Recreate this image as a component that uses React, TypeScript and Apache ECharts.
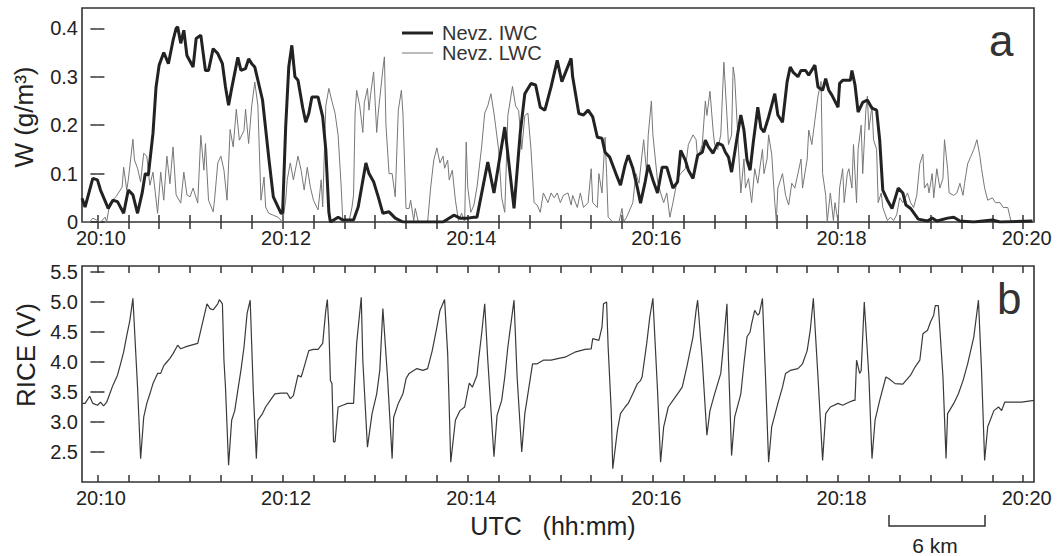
import React, { useEffect, useRef } from "react";
import * as echarts from "echarts";

// time axis: seconds after 20:10:00 UTC
const xTickValues = [0, 20, 40, 60, 80, 100, 120, 140, 160, 180, 200, 220, 240, 260, 280, 300, 320, 340, 360, 380, 400, 420, 440, 460, 480, 500, 520, 540, 560, 580, 600];
const xLabelValues = [0, 120, 240, 360, 480, 600];
const wTickValues = [0, 0.1, 0.2, 0.3, 0.4];
const riceTickValues = [2.5, 3.0, 3.5, 4.0, 4.5, 5.0, 5.5];
const legendNames = ["Nevz. IWC", "Nevz. LWC"];

const iwcT = [-10, -8, -3, 0, 2, 7, 10, 13, 17, 20, 23, 26, 29, 31, 33, 36, 38, 40, 43, 46, 49, 51, 52, 54, 56, 58, 62, 64, 67, 70, 72, 75, 78, 81, 83, 85, 87, 91, 93, 96, 98, 100, 102, 107, 111, 114, 119, 120, 122, 124, 126, 128, 130, 133, 135, 137, 139, 143, 146, 148, 150, 151, 156, 159, 166, 169, 174, 176, 179, 182, 185, 189, 193, 198, 224, 231, 235, 240, 244, 246, 253, 257, 264, 270, 274, 277, 281, 284, 287, 290, 294, 298, 301, 307, 308, 312, 315, 318, 321, 324, 327, 329, 332, 336, 339, 342, 344, 347, 350, 352, 355, 357, 360, 363, 366, 369, 373, 376, 378, 381, 383, 386, 389, 392, 394, 396, 399, 402, 405, 407, 409, 411, 415, 417, 419, 421, 423, 425, 428, 430, 432, 435, 437, 439, 441, 444, 447, 449, 451, 454, 456, 459, 461, 465, 467, 470, 472, 474, 476, 480, 481, 483, 488, 489, 491, 493, 496, 499, 502, 505, 507, 509, 512, 515, 519, 522, 524, 527, 532, 538, 541, 544, 551, 555, 559, 568, 580, 585, 606];
const iwcW = [0.049, 0.031, 0.09, 0.087, 0.066, 0.028, 0.045, 0.042, 0.018, 0.066, 0.056, 0.018, 0.06, 0.1, 0.097, 0.183, 0.279, 0.324, 0.35, 0.327, 0.375, 0.4, 0.403, 0.369, 0.396, 0.344, 0.32, 0.379, 0.386, 0.313, 0.313, 0.358, 0.348, 0.327, 0.279, 0.241, 0.276, 0.34, 0.313, 0.317, 0.337, 0.327, 0.32, 0.252, 0.134, 0.052, 0.018, 0.018, 0.196, 0.32, 0.365, 0.3, 0.293, 0.237, 0.206, 0.224, 0.258, 0.258, 0.217, 0.15, 0.02, 0, 0.01, 0.004, 0.004, 0.031, 0.122, 0.1, 0.083, 0.052, 0.018, 0.021, 0.008, 0, 0, 0.014, 0.008, 0.008, 0.01, 0.01, 0.124, 0.06, 0.196, 0.028, 0.183, 0.265, 0.286, 0.283, 0.237, 0.231, 0.279, 0.334, 0.29, 0.338, 0.3, 0.224, 0.221, 0.231, 0.217, 0.175, 0.173, 0.144, 0.134, 0.1, 0.076, 0.118, 0.138, 0.111, 0.07, 0.039, 0.083, 0.118, 0.087, 0.06, 0.113, 0.113, 0.07, 0.083, 0.148, 0.128, 0.107, 0.09, 0.138, 0.144, 0.169, 0.155, 0.142, 0.163, 0.159, 0.144, 0.134, 0.103, 0.183, 0.221, 0.19, 0.128, 0.107, 0.163, 0.237, 0.194, 0.186, 0.217, 0.241, 0.265, 0.221, 0.206, 0.29, 0.32, 0.309, 0.3, 0.313, 0.313, 0.303, 0.324, 0.279, 0.272, 0.296, 0.272, 0.262, 0.237, 0.286, 0.293, 0.293, 0.313, 0.283, 0.227, 0.247, 0.252, 0.235, 0.231, 0.169, 0.066, 0.045, 0.028, 0.07, 0.06, 0.035, 0.028, 0.006, 0.002, 0.008, 0.002, 0.008, 0.01, 0.002, 0, 0.004, 0, 0.002];

const lwcT = [-10, -5, -3, 2, 5, 6, 8, 12, 14, 16, 17, 19, 20, 23, 24, 26, 28, 30, 32, 34, 36, 39, 41, 43, 45, 47, 49, 51, 54, 56, 58, 60, 62, 65, 67, 69, 70, 72, 75, 76, 78, 80, 82, 84, 86, 88, 90, 92, 95, 96, 98, 100, 102, 104, 106, 108, 109, 111, 114, 117, 120, 122, 123, 125, 127, 130, 132, 134, 136, 138, 140, 143, 145, 146, 148, 150, 152, 154, 156, 158, 159, 163, 165, 166, 167, 168, 170, 172, 173, 175, 176, 177, 179, 181, 182, 185, 186, 187, 189, 191, 193, 195, 197, 198, 200, 202, 203, 205, 206, 208, 214, 216, 218, 220, 222, 224, 225, 227, 228, 230, 232, 234, 236, 238, 239, 240, 242, 244, 246, 249, 251, 253, 255, 257, 258, 260, 262, 264, 266, 269, 271, 273, 275, 277, 279, 281, 283, 285, 287, 289, 292, 294, 296, 298, 300, 302, 305, 307, 308, 311, 313, 315, 318, 320, 321, 324, 325, 327, 329, 330, 331, 334, 338, 340, 341, 343, 347, 349, 351, 354, 356, 357, 359, 360, 363, 365, 367, 369, 371, 373, 376, 378, 381, 383, 386, 388, 389, 392, 394, 395, 397, 399, 400, 402, 404, 406, 408, 409, 411, 412, 413, 415, 417, 419, 420, 422, 424, 426, 428, 431, 432, 434, 435, 437, 439, 440, 441, 444, 446, 448, 450, 452, 454, 456, 457, 460, 461, 463, 465, 467, 469, 470, 472, 473, 475, 477, 478, 480, 481, 483, 484, 486, 487, 489, 490, 492, 493, 495, 496, 498, 499, 500, 502, 503, 505, 506, 508, 509, 512, 514, 516, 518, 520, 522, 525, 527, 529, 531, 533, 535, 536, 538, 539, 541, 542, 544, 546, 548, 549, 551, 552, 555, 557, 559, 561, 562, 564, 566, 568, 570, 572, 573, 575, 577, 580, 582, 585, 587, 590, 592, 594, 607];
const lwcW = [0, 0, 0.008, 0, 0.01, 0, 0.039, 0.052, 0.062, 0.072, 0.113, 0.066, 0.087, 0.171, 0.128, 0.111, 0.083, 0.142, 0.136, 0.076, 0.103, 0.018, 0.103, 0.045, 0.136, 0.079, 0.155, 0.056, 0.039, 0.103, 0.056, 0.052, 0.07, 0.039, 0.179, 0.107, 0.162, 0.045, 0.021, 0.049, 0.122, 0.136, 0.107, 0.045, 0.191, 0.155, 0.233, 0.169, 0.189, 0.233, 0.162, 0.24, 0.289, 0.24, 0.045, 0.093, 0.031, 0.018, 0.014, 0.01, 0, 0.045, 0.087, 0.122, 0.087, 0.136, 0.107, 0.066, 0.113, 0.072, 0.045, 0.025, 0.087, 0.031, 0.24, 0.276, 0.249, 0.225, 0.179, 0.072, 0.003, 0, 0.031, 0.056, 0.225, 0.272, 0.24, 0.185, 0.247, 0.276, 0.231, 0.262, 0.31, 0.185, 0.225, 0.316, 0.341, 0.2, 0.1, 0.1, 0.052, 0.231, 0.272, 0.225, 0.028, 0.028, 0.045, 0.003, 0.028, 0, 0, 0.072, 0.128, 0.153, 0.122, 0.136, 0.111, 0.128, 0.087, 0.107, 0.045, 0.003, 0.018, 0, 0.165, 0.072, 0.02, 0.035, 0.072, 0.155, 0.225, 0.24, 0.265, 0.225, 0.2, 0.15, 0.05, 0.02, 0.22, 0.28, 0.24, 0.23, 0.15, 0.22, 0.225, 0.15, 0.04, 0.035, 0.02, 0.06, 0.04, 0.06, 0.05, 0.06, 0.04, 0.055, 0.06, 0.035, 0.055, 0.03, 0.06, 0.03, 0.04, 0.11, 0.04, 0.03, 0.1, 0.06, 0.175, 0.1, 0.01, 0, 0, 0.028, 0, 0.01, 0.04, 0.1, 0.08, 0.17, 0.1, 0.18, 0.25, 0.18, 0.085, 0.06, 0.04, 0.06, 0.01, 0.04, 0.09, 0.1, 0.11, 0.16, 0.18, 0.17, 0.13, 0.16, 0.25, 0.22, 0.27, 0.19, 0.16, 0.15, 0.18, 0.33, 0.22, 0.16, 0.18, 0.32, 0.3, 0.18, 0.06, 0.13, 0.07, 0.09, 0.04, 0.11, 0.08, 0.15, 0.1, 0.13, 0.18, 0.14, 0.04, 0.003, 0.07, 0.1, 0.055, 0.035, 0.08, 0.07, 0.1, 0.13, 0.07, 0.13, 0.19, 0.16, 0.21, 0.26, 0.29, 0.1, 0.055, 0, 0.06, 0.003, 0.04, 0, 0.07, 0.11, 0.04, 0.1, 0.11, 0.07, 0.16, 0.04, 0.15, 0.2, 0.1, 0.23, 0.26, 0.19, 0.24, 0.17, 0.15, 0.04, 0.06, 0.03, 0.003, 0.01, 0.003, 0.015, 0.05, 0.04, 0.06, 0.04, 0.03, 0.055, 0.12, 0.14, 0.07, 0.08, 0.06, 0.1, 0.05, 0.11, 0.07, 0.09, 0.17, 0.11, 0.06, 0.055, 0.06, 0.08, 0.055, 0.08, 0.12, 0.135, 0.15, 0.17, 0.135, 0.11, 0.07, 0.045, 0.05, 0.04, 0.04, 0.03, 0.03, 0.003, 0, 0];

const riceT = [-10, -8, -5, -3, 0, 2, 4, 6, 8, 10, 13, 15, 17, 19, 21, 23, 26, 28, 30, 32, 34, 36, 39, 41, 43, 45, 47, 49, 52, 54, 58, 62, 65, 68, 71, 73, 75, 78, 79, 81, 82, 83, 85, 87, 89, 91, 93, 95, 97, 99, 101, 103, 104, 107, 109, 112, 115, 119, 123, 125, 127, 130, 132, 133, 137, 140, 143, 146, 148, 149, 150, 151, 152, 153, 154, 156, 159, 162, 166, 168, 171, 172, 175, 178, 181, 183, 185, 188, 191, 192, 195, 198, 200, 202, 205, 207, 211, 214, 217, 220, 222, 225, 227, 229, 232, 235, 238, 241, 243, 246, 247, 249, 251, 253, 257, 259, 262, 264, 266, 270, 272, 275, 277, 279, 282, 285, 289, 294, 299, 303, 310, 316, 320, 321, 325, 327, 328, 330, 331, 333, 334, 337, 339, 342, 344, 347, 350, 352, 353, 356, 358, 360, 363, 365, 367, 370, 373, 376, 379, 382, 386, 388, 389, 392, 395, 397, 400, 404, 406, 408, 409, 411, 413, 417, 419, 421, 423, 424, 426, 428, 429, 431, 433, 435, 437, 441, 444, 446, 449, 454, 457, 460, 462, 464, 467, 470, 472, 475, 480, 483, 487, 490, 491, 492, 494, 495, 497, 500, 502, 504, 507, 511, 513, 517, 522, 527, 530, 533, 535, 538, 540, 542, 543, 545, 548, 550, 551, 555, 558, 561, 564, 568, 571, 573, 575, 577, 581, 584, 586, 588, 593, 599, 607];
const riceV = [3.31, 3.31, 3.43, 3.31, 3.28, 3.33, 3.27, 3.33, 3.47, 3.61, 3.78, 3.97, 4.17, 4.44, 4.69, 5.06, 3.58, 2.39, 3.08, 3.31, 3.47, 3.64, 3.81, 3.81, 3.94, 4.0, 4.06, 4.14, 4.28, 4.22, 4.26, 4.29, 4.31, 4.64, 4.97, 4.89, 4.87, 4.97, 5.04, 4.97, 4.03, 3.58, 2.28, 3.03, 3.19, 3.53, 3.86, 4.25, 4.81, 5.03, 3.53, 2.39, 3.03, 3.14, 3.25, 3.36, 3.47, 3.48, 3.48, 3.39, 3.44, 3.78, 3.75, 3.83, 4.19, 4.21, 4.21, 4.31, 4.86, 5.04, 4.58, 3.69, 3.64, 2.67, 2.67, 3.25, 3.28, 3.31, 3.31, 4.31, 5.08, 4.03, 2.58, 3.14, 3.47, 3.86, 4.89, 3.75, 2.39, 3.08, 3.31, 3.47, 3.72, 3.81, 3.86, 3.89, 3.86, 3.89, 4.19, 4.58, 4.86, 5.04, 4.14, 2.33, 3.03, 3.19, 3.25, 3.65, 3.58, 3.78, 4.03, 4.47, 4.97, 4.03, 2.42, 3.11, 3.36, 3.75, 4.25, 5.03, 3.75, 2.5, 3.14, 3.47, 3.97, 3.97, 4.03, 4.03, 4.06, 4.08, 4.17, 4.21, 4.22, 4.39, 4.36, 4.58, 4.97, 5.0, 4.25, 3.19, 2.22, 2.86, 3.14, 3.25, 3.31, 3.47, 3.64, 3.69, 3.75, 4.31, 4.75, 5.06, 3.53, 2.33, 2.92, 3.25, 3.36, 3.47, 3.58, 3.92, 4.42, 4.86, 5.03, 4.03, 2.78, 3.19, 3.47, 3.81, 4.36, 4.97, 4.03, 2.44, 3.08, 3.47, 3.97, 4.42, 4.5, 4.64, 4.86, 4.78, 4.81, 5.06, 3.75, 2.33, 2.92, 3.31, 3.58, 3.81, 3.86, 3.89, 3.97, 4.19, 4.53, 5.06, 3.75, 2.36, 3.14, 3.25, 3.31, 3.28, 3.33, 3.36, 3.36, 4.03, 3.81, 3.86, 5.0, 3.75, 2.39, 3.03, 3.36, 3.75, 3.72, 3.64, 3.63, 3.78, 3.92, 4.03, 4.47, 4.53, 4.67, 4.78, 4.94, 4.94, 3.75, 2.39, 3.14, 3.31, 3.47, 3.69, 3.97, 4.42, 5.03, 3.86, 2.36, 2.92, 3.19, 3.25, 3.19, 3.33, 3.33, 3.33, 3.36];

const zip = (t: number[], v: number[]) => t.map((x, i) => [x, v[i]]);

const FONT = "'Liberation Sans', Arial, Helvetica, sans-serif";
const INK = "#222";
const IWC_COLOR = "#222";
const LWC_COLOR = "#777";
const tickLine = { color: "#333", width: 1.5 };

const fmtTime = (v: number) => {
  const m = 10 + Math.round(v / 60);
  return "20:" + String(m).padStart(2, "0");
};

function xAxis(gridIndex: number, position: "top" | "bottom", showLabel: boolean) {
  return {
    type: "value",
    gridIndex,
    position,
    min: -10,
    max: 607,
    axisLine: { show: false },
    splitLine: { show: false },
    axisTick: { show: true, inside: true, length: 7, lineStyle: tickLine, customValues: xTickValues },
    axisLabel: {
      show: showLabel,
      customValues: xLabelValues,
      formatter: fmtTime,
      fontSize: 20,
      color: INK,
      fontFamily: FONT,
      margin: 6,
      padding: [0, 0, 0, 7],
    },
  };
}

function yAxis(gridIndex: number, position: "left" | "right", min: number, max: number, ticks: number[], showLabel: boolean, fmt: (v: number) => string) {
  return {
    type: "value",
    gridIndex,
    position,
    min,
    max,
    axisLine: { show: false },
    splitLine: { show: false },
    axisTick: { show: true, inside: true, length: 7, lineStyle: tickLine, customValues: ticks },
    axisLabel: {
      show: showLabel,
      customValues: ticks,
      formatter: fmt,
      fontSize: 20,
      color: INK,
      fontFamily: FONT,
      margin: 4,
    },
  };
}

export default function App() {
  const ref = useRef<HTMLDivElement>(null);
  useEffect(() => {
    if (!ref.current) return;
    const chart = echarts.init(ref.current, undefined, { renderer: "svg" });
    const gridStyle = { show: true, borderColor: "#333", borderWidth: 1.6, backgroundColor: "transparent" };
    const txt = (text: string, x: number, y: number, fontSize: number, extra: any = {}) => ({
      type: "text",
      x,
      y,
      ...extra,
      style: { text, fontSize, fontFamily: FONT, fill: INK, align: "center", verticalAlign: "middle", ...(extra.style || {}) },
    });
    chart.setOption({
      animation: false,
      backgroundColor: "#fff",
      textStyle: { fontFamily: FONT },
      grid: [
        { left: 82, right: 25, top: 8, height: 214, ...gridStyle },
        { left: 82, right: 25, top: 266, height: 216, ...gridStyle },
      ],
      xAxis: [
        xAxis(0, "bottom", true),
        xAxis(0, "top", false),
        xAxis(1, "bottom", true),
        xAxis(1, "top", false),
      ],
      yAxis: [
        yAxis(0, "left", 0, 0.442, wTickValues, true, (v) => (v === 0 ? "0" : v.toFixed(1))),
        yAxis(0, "right", 0, 0.442, wTickValues, false, (v) => String(v)),
        yAxis(1, "left", 2.0, 5.6, riceTickValues, true, (v) => v.toFixed(1)),
        yAxis(1, "right", 2.0, 5.6, riceTickValues, false, (v) => String(v)),
      ],
      series: [
        {
          name: legendNames[1],
          type: "line",
          xAxisIndex: 0,
          yAxisIndex: 0,
          data: zip(lwcT, lwcW),
          symbol: "none",
          color: LWC_COLOR,
          lineStyle: { color: LWC_COLOR, width: 1 },
          z: 2,
        },
        {
          name: legendNames[0],
          type: "line",
          xAxisIndex: 0,
          yAxisIndex: 0,
          data: zip(iwcT, iwcW),
          symbol: "none",
          color: IWC_COLOR,
          lineStyle: { color: IWC_COLOR, width: 3 },
          z: 3,
        },
        {
          name: "RICE",
          type: "line",
          xAxisIndex: 2,
          yAxisIndex: 2,
          data: zip(riceT, riceV),
          symbol: "none",
          color: "#3a3a3a",
          lineStyle: { color: "#3a3a3a", width: 1.2 },
        },
      ],
      graphic: [
        // legend
        { type: "line", shape: { x1: 402, y1: 33, x2: 433, y2: 33 }, style: { stroke: IWC_COLOR, lineWidth: 3 } },
        txt(legendNames[0], 442, 33, 20, { style: { align: "left", fill: "#333" } }),
        { type: "line", shape: { x1: 402, y1: 53, x2: 433, y2: 53 }, style: { stroke: LWC_COLOR, lineWidth: 1 } },
        txt(legendNames[1], 442, 53, 20, { style: { align: "left", fill: "#333" } }),
        // axis titles
        txt("W (g/m³)", 24, 117, 26, { rotation: Math.PI / 2 }),
        txt("RICE (V)", 26, 355, 26, { rotation: Math.PI / 2 }),
        txt("UTC   (hh:mm)", 553, 526, 25),
        // panel letters
        txt("a", 989, 40, 44, { style: { align: "left", fill: "#333" } }),
        txt("b", 997, 298, 44, { style: { align: "left", fill: "#333" } }),
        // distance scale bar
        { type: "polyline", shape: { points: [[889, 515], [889, 526], [985, 526], [985, 515]] }, style: { stroke: "#333", lineWidth: 1.5, fill: "none" } },
        txt("6 km", 935, 545, 21),
      ],
    });
    return () => chart.dispose();
  }, []);
  return <div ref={ref} style={{ position: "fixed", left: 0, top: 0, width: 1059, height: 556, background: "#fff" }} />;
}
